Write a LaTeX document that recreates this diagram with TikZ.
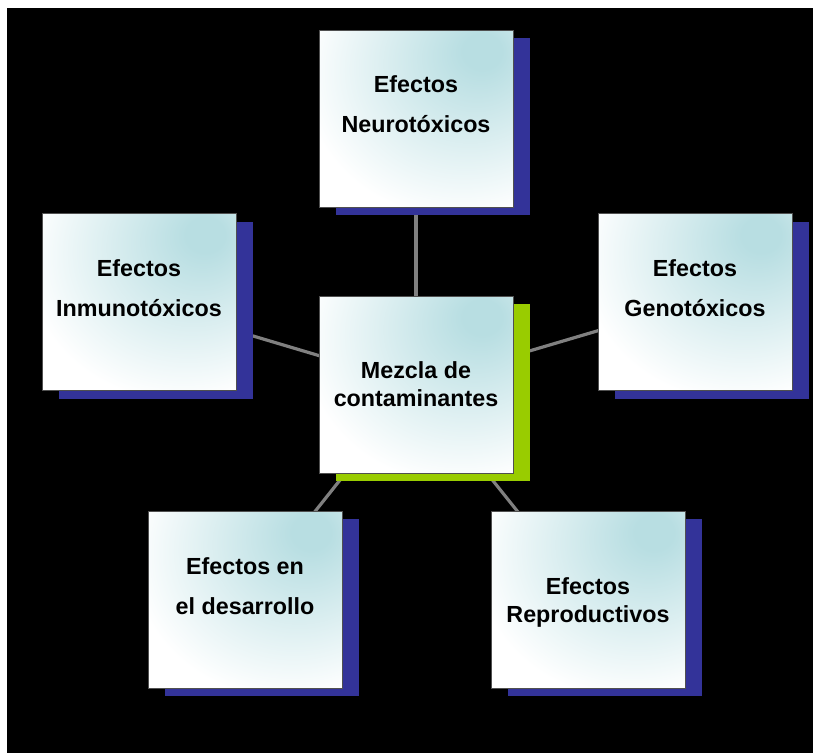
\documentclass[tikz,border=0pt]{standalone}
\usepackage{fontspec}
\setmainfont{Liberation Sans}
\usetikzlibrary{shadows}

\definecolor{cian}{RGB}{184,222,226}
\definecolor{sombraazul}{RGB}{51,51,153}
\definecolor{sombraverde}{RGB}{153,204,0}
\definecolor{linea}{RGB}{128,128,128}
\definecolor{borde}{RGB}{80,80,80}

% brillo celeste en la esquina superior derecha de cada caja
\pgfdeclareradialshading{brillo}{\pgfpoint{18bp}{20bp}}{color(0bp)=(cian); color(5bp)=(cian); color(40bp)=(white); color(100bp)=(white)}

\pgfdeclarelayer{fondo}
\pgfdeclarelayer{lineas}
\pgfsetlayers{fondo,lineas,main}

\begin{document}
\begin{tikzpicture}[x=1pt, y=-1pt,
    caja/.style={minimum width=194pt, minimum height=177pt, inner sep=0pt,
        draw=borde, line width=0.8pt, shading=brillo},
    cajaazul/.style={caja, drop shadow={shadow xshift=17pt, shadow yshift=-8pt,
        fill=sombraazul, opacity=1}},
    cajaverde/.style={caja, drop shadow={shadow xshift=17pt, shadow yshift=-8pt,
        fill=sombraverde, opacity=1}},
    texto/.style={font=\fontsize{23.3}{28}\selectfont\bfseries, align=center, inner sep=0pt},
    conector/.style={draw=linea, line width=3.2pt}]
    \useasboundingbox (0,0) rectangle (813,753);

    \begin{pgfonlayer}{fondo}
        \fill[white] (0,0) rectangle (813,753);
        \fill[black] (7,8) rectangle (813,753);
    \end{pgfonlayer}

    % cajas
    \node[cajaazul] (neuro) at (416,118.5) {};
    \node[cajaazul] (inmuno) at (139,302) {};
    \node[cajaazul] (geno) at (695,302) {};
    \node[cajaverde] (mezcla) at (416,384.5) {};
    \node[cajaazul] (desarrollo) at (245,599.5) {};
    \node[cajaazul] (repro) at (588,599.5) {};

    % textos
    \node[texto] (tneuro) at ([yshift=14pt]neuro.center) {Efectos\\[12pt]Neurotóxicos};
    \node[texto] (tinmuno) at ([yshift=14pt]inmuno.center) {Efectos\\[12pt]Inmunotóxicos};
    \node[texto] (tgeno) at ([yshift=14pt]geno.center) {Efectos\\[12pt]Genotóxicos};
    \node[texto] (tmezcla) at (mezcla.center) {Mezcla de\\contaminantes};
    \node[texto] (tdesarrollo) at ([yshift=13pt]desarrollo.center) {Efectos en\\[12pt]el desarrollo};
    \node[texto] (trepro) at ([yshift=-3pt]repro.center) {Efectos\\Reproductivos};

    % conectores, por debajo de las cajas
    \begin{pgfonlayer}{lineas}
        \draw[conector] (mezcla.center) -- (neuro.center);
        \draw[conector] (mezcla.center) -- (inmuno.center);
        \draw[conector] (mezcla.center) -- (geno.center);
        \draw[conector] (mezcla.center) -- (desarrollo.center);
        \draw[conector] (mezcla.center) -- (repro.center);
    \end{pgfonlayer}
\end{tikzpicture}
\end{document}
